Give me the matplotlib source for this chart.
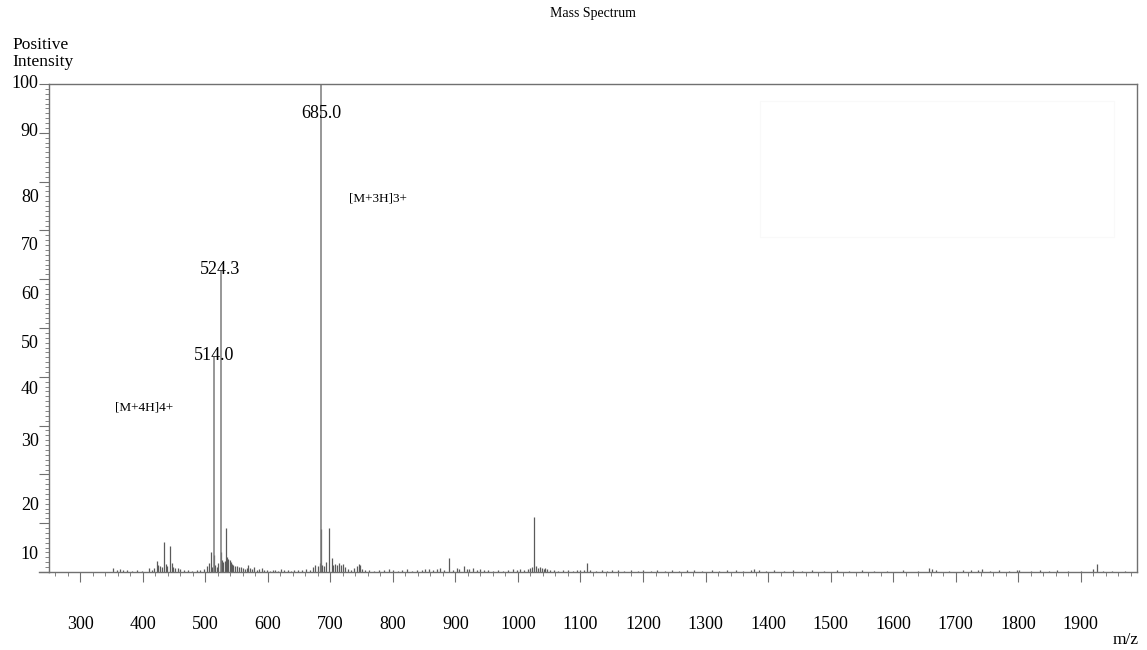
import matplotlib
matplotlib.use("Agg")
import matplotlib.pyplot as plt
import matplotlib.transforms as mtransforms
from matplotlib.patches import Rectangle
from matplotlib.ticker import MultipleLocator

plt.rcParams["font.family"] = ["Liberation Serif", "DejaVu Serif"]

# labelled peaks
peak_mz = [514.0, 524.3, 685.0]
peak_int = [44.1, 61.6, 100.0]
peak_labels = ["514.0", "524.3", "685.0"]

# smaller peaks and baseline noise
minor_mz = [
    352, 358, 363, 368, 375, 382, 390, 398, 410, 414, 418, 422, 424, 427, 430,
    434.7, 437, 439, 443.3, 446, 449, 452, 456, 460, 466, 472, 478, 486, 492,
    498, 503, 506, 509, 511, 514.7, 516, 519, 521, 524.9, 527, 529, 531, 533.2,
    535, 537, 539, 541, 543, 545, 548, 551, 554, 557, 560, 563, 566, 569, 572,
    575, 578, 582, 586, 590, 594, 598, 603, 608, 612, 617, 621, 626, 632, 637,
    642, 648, 655, 661, 667, 672, 676, 680, 683, 684.8, 687, 690, 693, 697.8,
    702, 705, 708, 711, 714, 717, 720, 724, 728, 733, 738, 742, 745, 747, 750,
    756, 762, 770, 778, 786, 793, 800, 808, 815, 823, 830, 838, 846, 852, 858,
    864, 870, 876, 882, 890, 896, 902, 906, 913, 918, 922, 928, 934, 940, 946,
    952, 960, 968, 976, 984, 992, 998, 1004, 1010, 1016, 1020, 1023, 1025.8,
    1029, 1032, 1035, 1038, 1041, 1044, 1047, 1052, 1058, 1064, 1072, 1080,
    1088, 1094, 1100, 1106, 1110.4, 1116, 1125, 1134, 1142, 1150, 1160, 1170,
    1180, 1192, 1200, 1212, 1222, 1235, 1246, 1258, 1270, 1282, 1295, 1310,
    1322, 1334, 1348, 1360, 1372, 1378, 1385, 1396, 1410, 1425, 1440, 1455,
    1470, 1490, 1510, 1530, 1550, 1570, 1590, 1615, 1640, 1658, 1662, 1668,
    1690, 1712, 1725, 1736, 1742, 1755, 1770, 1785, 1798, 1802, 1820, 1835,
    1850, 1862, 1880, 1900, 1920, 1925.7, 1935, 1950, 1970,
]
minor_int = [
    0.8, 0.5, 0.6, 0.4, 0.5, 0.3, 0.4, 0.3, 0.8, 0.5, 0.9, 2.3, 1.4, 1.2, 1.0,
    6.1, 1.6, 1.2, 5.3, 1.9, 1.0, 0.8, 0.8, 0.6, 0.4, 0.5, 0.3, 0.4, 0.5,
    0.6, 1.2, 1.8, 4.1, 1.0, 3.5, 1.4, 1.0, 1.8, 4.2, 2.5, 2.0, 2.3, 9.0,
    3.0, 2.6, 2.4, 2.0, 1.7, 1.5, 1.3, 1.2, 1.0, 1.0, 0.8, 0.7, 0.9, 1.5, 0.8,
    0.6, 1.0, 0.5, 0.6, 0.8, 0.4, 0.5, 0.3, 0.4, 0.5, 0.3, 0.6, 0.5, 0.4, 0.3,
    0.5, 0.4, 0.5, 0.6, 0.4, 1.1, 1.5, 1.3, 1.8, 8.8, 1.5, 1.2, 2.0, 9.0,
    2.9, 1.5, 1.6, 1.4, 1.8, 1.5, 1.7, 1.0, 0.6, 0.5, 0.8, 1.2, 1.6, 1.4, 0.7,
    0.4, 0.5, 0.3, 0.5, 0.4, 0.6, 0.5, 0.3, 0.4, 0.6, 0.3, 0.4, 0.5, 0.6, 0.7,
    0.5, 0.7, 0.8, 0.4, 2.9, 0.4, 0.9, 0.6, 1.3, 0.7, 0.6, 0.8, 0.5, 0.7, 0.5,
    0.4, 0.3, 0.5, 0.3, 0.4, 0.6, 0.5, 0.6, 0.4, 0.7, 0.8, 1.0, 11.3,
    1.2, 0.9, 1.0, 0.8, 0.7, 0.8, 0.6, 0.5, 0.4, 0.3, 0.5, 0.4,
    0.3, 0.4, 0.5, 0.4, 1.9, 0.4, 0.3, 0.5, 0.3, 0.4, 0.5, 0.3,
    0.4, 0.3, 0.5, 0.3, 0.4, 0.3, 0.4, 0.3, 0.4, 0.5, 0.3, 0.4,
    0.3, 0.5, 0.4, 0.3, 0.4, 0.7, 0.5, 0.3, 0.4, 0.3, 0.4, 0.3,
    0.4, 0.3, 0.4, 0.3, 0.4, 0.3, 0.3, 0.4, 0.3, 0.8, 0.6, 0.4,
    0.3, 0.5, 0.4, 0.5, 0.7, 0.3, 0.4, 0.3, 0.5, 0.4, 0.3, 0.4,
    0.3, 0.5, 0.3, 0.3, 0.6, 1.6, 0.3, 0.3, 0.2,
]

ion_labels = ["[M+3H]3+", "[M+4H]4+"]
ion_mz = [776, 402]
ion_int = [76.6, 33.8]

x_ticks = list(range(300, 2000, 100))
y_ticks = [100, 90, 80, 70, 60, 50, 40, 30, 20, 10]
# the y labels sit a little below their ticks in the original
y_label_shift = [0.2, 0.2, -3.2, -3.0, -3.2, -3.1, -2.7, -3.2, -6.3, -6.5]

grey = "#707070"

fig = plt.figure(figsize=(11.47, 6.5), dpi=100)
ax = fig.add_axes([0.0427, 0.12, 0.9486, 0.7508])

ax.vlines(minor_mz, 0, minor_int, color="#5a5a5a", lw=0.9)
ax.vlines(peak_mz, 0, peak_int, color="#7a7a7a", lw=1.1)

for mz, inten, lab in zip(peak_mz, peak_int, peak_labels):
    y = inten - 6.1 if inten >= 100 else inten + 0.3
    ax.text(mz, y, lab, ha="center", va="center", fontsize=13)
for lab, mz, inten in zip(ion_labels, ion_mz, ion_int):
    ax.text(mz, inten, lab, ha="center", va="center", fontsize=9.5)

ax.set_xlim(250, 1990)
ax.set_ylim(0, 100)

for side in ["top", "right", "left", "bottom"]:
    ax.spines[side].set_color(grey)
    ax.spines[side].set_linewidth(1.0)

ax.xaxis.set_major_locator(MultipleLocator(100))
ax.xaxis.set_minor_locator(MultipleLocator(20))
ax.set_xticks(x_ticks)
ax.set_xticklabels([str(v) for v in x_ticks], fontsize=13)
ax.tick_params(axis="x", which="major", direction="out", length=7,
               color=grey, pad=25)
ax.tick_params(axis="x", which="minor", direction="out", length=3.2,
               color=grey)

ax.yaxis.set_major_locator(MultipleLocator(10))
ax.yaxis.set_minor_locator(MultipleLocator(1))
ax.tick_params(axis="y", which="major", direction="out", length=7,
               color=grey, labelleft=False)
ax.tick_params(axis="y", which="minor", direction="out", length=3,
               color=grey)

ylab_trans = mtransforms.blended_transform_factory(ax.transAxes, ax.transData)
for val, shift in zip(y_ticks, y_label_shift):
    ax.text(-0.0095, val + shift, str(val), transform=ylab_trans,
            ha="right", va="center", fontsize=13)

# baseline runs a little past the y axis
ax.plot([-0.0095, 0], [0, 0], transform=ylab_trans, color=grey, lw=1.0,
        clip_on=False)

fig.text(0.517, 0.979, "Mass Spectrum", ha="center", va="center", fontsize=10)
fig.text(0.0105, 0.931, "Positive", ha="left", va="center", fontsize=12.5)
fig.text(0.0105, 0.905, "Intensity", ha="left", va="center", fontsize=12.5)
fig.text(0.993, 0.015, "m/z", ha="right", va="center", fontsize=12.5)

# very faint empty box on the right
fig.patches.append(Rectangle((760 / 1147, 1 - 237 / 650), 354 / 1147,
                             136 / 650, transform=fig.transFigure,
                             fill=False, edgecolor="#f9f9f9", lw=0.8))

fig.savefig("out.png", dpi=100)
